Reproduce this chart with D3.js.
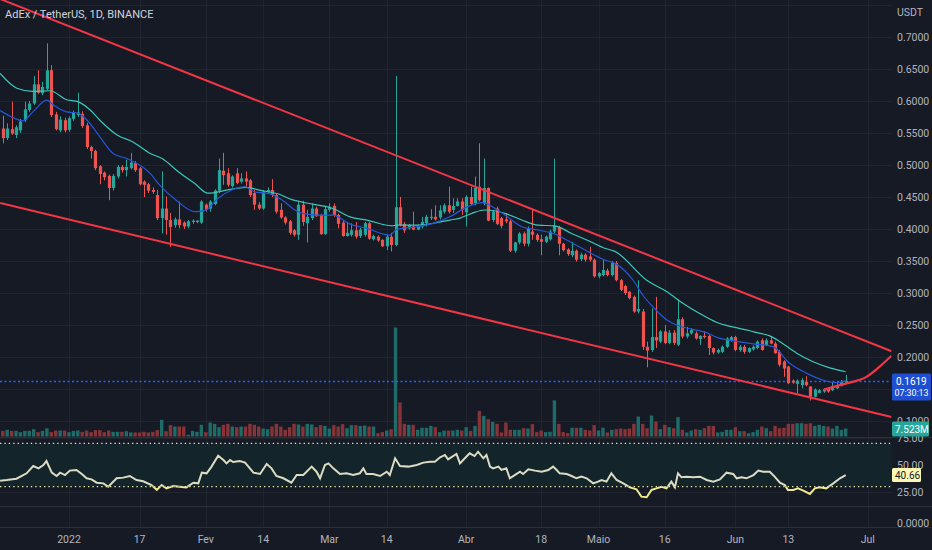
<!DOCTYPE html>
<html lang="pt">
<head>
<meta charset="UTF-8">
<title>AdEx / TetherUS, 1D, BINANCE</title>
<script src="https://d3js.org/d3.v7.min.js"></script>
<style type="text/css">
body { margin: 0; background: #161a25; }
svg { display: block; font-family: Roboto, "Liberation Sans", sans-serif; }
.lbl { font-size: 10.5px; fill: #b2b5be; }
.grid { stroke: #20242f; stroke-width: 1; shape-rendering: crispEdges; }
.sep { stroke: #2a2e39; stroke-width: 1; shape-rendering: crispEdges; }
</style>
</head>
<body>
<div id="chart"></div>
<script>
// ---- data (daily candles, first one on 2021-12-17) ----
var firstDay = "2021-12-17";
var opens = [
0.557,0.542,0.556,0.547,0.554,0.570,0.586,0.596,0.626,0.612,
0.619,0.648,0.579,0.554,0.570,0.555,0.572,0.578,0.580,0.562,
0.528,0.522,0.498,0.488,0.483,0.464,0.482,0.497,0.492,0.495,
0.503,0.495,0.474,0.470,0.461,0.453,0.417,0.432,0.414,0.406,
0.415,0.410,0.404,0.411,0.411,0.410,0.438,0.432,0.439,0.460,
0.491,0.487,0.467,0.487,0.474,0.479,0.476,0.456,0.438,0.432,
0.458,0.461,0.453,0.430,0.418,0.412,0.398,0.391,0.438,0.409,
0.417,0.432,0.422,0.392,0.430,0.436,0.422,0.410,0.389,0.391,
0.398,0.389,0.391,0.409,0.384,0.388,0.383,0.373,0.388,0.375,
0.434,0.408,0.401,0.404,0.399,0.404,0.409,0.417,0.419,0.418,
0.427,0.437,0.430,0.436,0.443,0.426,0.450,0.440,0.466,0.440,
0.464,0.414,0.432,0.417,0.415,0.412,0.366,0.379,0.393,0.377,
0.396,0.391,0.384,0.380,0.384,0.396,0.403,0.377,0.368,0.359,
0.366,0.353,0.360,0.357,0.352,0.326,0.328,0.335,0.328,0.347,
0.320,0.311,0.302,0.294,0.271,0.271,0.216,0.211,0.231,0.224,
0.240,0.222,0.238,0.219,0.259,0.232,0.237,0.237,0.228,0.233,
0.233,0.214,0.207,0.208,0.216,0.226,0.231,0.211,0.216,0.208,
0.212,0.214,0.226,0.219,0.226,0.221,0.208,0.193,0.185,0.163,
0.158,0.156,0.161,0.154,0.138,0.144,0.146,0.151,0.148,0.151,
0.155,0.159];
var highs = [
0.577,0.565,0.599,0.562,0.572,0.599,0.600,0.639,0.648,0.630,
0.690,0.656,0.583,0.576,0.574,0.576,0.585,0.613,0.584,0.566,
0.530,0.524,0.500,0.490,0.485,0.486,0.500,0.500,0.508,0.519,
0.506,0.497,0.476,0.472,0.465,0.461,0.490,0.451,0.425,0.418,
0.443,0.412,0.414,0.415,0.414,0.445,0.440,0.445,0.462,0.510,
0.519,0.495,0.484,0.495,0.487,0.490,0.478,0.461,0.442,0.461,
0.465,0.478,0.456,0.440,0.420,0.414,0.400,0.442,0.444,0.430,
0.440,0.435,0.424,0.435,0.440,0.440,0.424,0.414,0.411,0.409,
0.411,0.402,0.411,0.411,0.391,0.390,0.384,0.391,0.394,0.639,
0.450,0.411,0.408,0.427,0.407,0.419,0.422,0.431,0.437,0.437,
0.440,0.466,0.448,0.448,0.448,0.453,0.466,0.482,0.534,0.510,
0.465,0.430,0.435,0.419,0.425,0.414,0.380,0.395,0.396,0.404,
0.430,0.393,0.391,0.390,0.399,0.510,0.405,0.378,0.370,0.380,
0.368,0.363,0.362,0.372,0.354,0.333,0.352,0.338,0.350,0.350,
0.322,0.313,0.303,0.296,0.320,0.275,0.224,0.276,0.294,0.242,
0.250,0.242,0.242,0.290,0.262,0.247,0.245,0.240,0.234,0.240,
0.235,0.215,0.213,0.218,0.231,0.233,0.233,0.219,0.219,0.215,
0.218,0.226,0.229,0.229,0.232,0.224,0.211,0.195,0.186,0.165,
0.165,0.167,0.170,0.154,0.151,0.150,0.151,0.153,0.161,0.161,
0.164,0.172];
var lows = [
0.534,0.539,0.547,0.542,0.550,0.567,0.583,0.594,0.611,0.609,
0.617,0.575,0.554,0.551,0.551,0.552,0.569,0.575,0.558,0.525,
0.510,0.492,0.470,0.476,0.445,0.460,0.479,0.488,0.482,0.493,
0.489,0.468,0.450,0.456,0.455,0.414,0.393,0.391,0.372,0.402,
0.401,0.400,0.401,0.408,0.409,0.408,0.427,0.427,0.437,0.456,
0.469,0.466,0.465,0.470,0.471,0.466,0.450,0.430,0.430,0.430,
0.455,0.450,0.424,0.416,0.407,0.391,0.388,0.383,0.405,0.379,
0.414,0.419,0.391,0.391,0.427,0.419,0.401,0.388,0.388,0.388,
0.385,0.386,0.388,0.383,0.382,0.380,0.372,0.367,0.365,0.373,
0.404,0.394,0.399,0.398,0.398,0.401,0.404,0.414,0.413,0.415,
0.424,0.424,0.425,0.435,0.422,0.404,0.437,0.437,0.443,0.437,
0.412,0.411,0.406,0.401,0.409,0.364,0.363,0.376,0.373,0.373,
0.383,0.380,0.359,0.378,0.382,0.393,0.359,0.365,0.358,0.356,
0.349,0.350,0.349,0.349,0.324,0.323,0.326,0.326,0.326,0.318,
0.303,0.297,0.290,0.269,0.268,0.211,0.184,0.208,0.214,0.222,
0.220,0.220,0.219,0.217,0.229,0.229,0.235,0.227,0.219,0.229,
0.203,0.204,0.205,0.206,0.214,0.224,0.209,0.208,0.205,0.206,
0.210,0.212,0.210,0.217,0.220,0.205,0.185,0.169,0.158,0.158,
0.143,0.151,0.154,0.132,0.137,0.143,0.144,0.144,0.147,0.150,
0.154,0.158];
var closes = [
0.542,0.557,0.549,0.559,0.568,0.587,0.596,0.626,0.613,0.622,
0.648,0.578,0.556,0.571,0.554,0.573,0.582,0.582,0.561,0.528,
0.522,0.495,0.486,0.481,0.464,0.483,0.497,0.492,0.497,0.504,
0.492,0.470,0.469,0.460,0.458,0.417,0.432,0.414,0.403,0.415,
0.406,0.404,0.412,0.413,0.413,0.443,0.430,0.443,0.460,0.492,
0.484,0.469,0.482,0.472,0.479,0.474,0.453,0.438,0.432,0.458,
0.461,0.453,0.427,0.418,0.410,0.394,0.391,0.438,0.411,0.419,
0.432,0.420,0.392,0.431,0.435,0.422,0.408,0.389,0.394,0.398,
0.388,0.399,0.409,0.385,0.389,0.382,0.373,0.388,0.375,0.434,
0.406,0.398,0.406,0.399,0.405,0.411,0.419,0.419,0.415,0.429,
0.437,0.427,0.436,0.443,0.430,0.450,0.439,0.464,0.445,0.464,
0.413,0.427,0.408,0.405,0.412,0.366,0.379,0.393,0.377,0.401,
0.391,0.383,0.380,0.388,0.396,0.405,0.377,0.367,0.361,0.366,
0.352,0.360,0.352,0.352,0.326,0.331,0.336,0.328,0.347,0.320,
0.305,0.300,0.292,0.271,0.275,0.216,0.210,0.231,0.226,0.240,
0.222,0.238,0.222,0.259,0.232,0.237,0.242,0.229,0.233,0.231,
0.214,0.207,0.211,0.216,0.229,0.231,0.211,0.216,0.208,0.214,
0.216,0.224,0.211,0.226,0.221,0.206,0.188,0.182,0.159,0.160,
0.163,0.164,0.156,0.138,0.149,0.148,0.149,0.146,0.154,0.156,
0.161,0.1619];
// volume in millions
var volumes = [
5.3,6.3,5.3,5.3,4.1,5.3,5.3,6.9,4.1,5.3,
7.8,4.1,5.6,5.6,5.6,4.1,5.3,5.6,4.4,5.6,
4.1,6.0,6.0,4.1,5.6,4.4,4.4,4.4,5.0,3.8,
3.8,3.8,4.4,3.8,4.4,6.0,15.7,5.0,10.7,9.4,
9.4,9.4,1.6,5.3,4.4,11.0,4.1,13.2,11.9,8.8,
11.0,11.9,9.4,8.8,9.4,9.4,11.9,11.0,9.4,7.5,
6.9,9.4,11.9,9.4,6.3,8.8,11.9,11.3,9.4,11.9,
11.3,8.8,10.7,10.0,7.5,10.7,9.4,11.6,7.8,10.7,
10.7,10.0,10.3,9.4,9.4,3.1,4.1,5.6,6.9,102.5,
32,11.9,11.0,11.0,6.3,8.2,8.2,10.0,8.8,4.1,
5.6,5.6,5.6,6.3,5.6,8.8,5.3,10.0,24.1,19.4,
16.3,13.8,11.9,3.8,13.2,6.3,6.3,6.3,7.8,7.5,
11.6,4.1,5.6,4.1,4.4,34,11.9,4.1,3.1,8.2,
8.2,8.2,6.3,5.6,10.7,5.6,8.2,3.8,6.3,6.9,
7.5,6.9,7.5,11.9,18.8,11.9,7.8,19.7,14.1,6.9,
11.0,8.8,7.8,18.2,6.3,3.8,5.6,6.9,6.3,7.8,
10.0,10.0,3.8,4.4,6.3,6.3,8.8,5.0,5.0,3.1,
4.1,6.3,9.4,7.8,5.0,10.0,7.8,8.2,11.9,11.9,
12.5,12.5,11.9,12.5,10.0,11.0,10.0,9.4,7.5,10.0,
6.3,7.523];

// moving averages (day offset from 2022-01-01, price)
var slowMaDays = [-15.6,-11.8,-8.2,-4.3,-0.5,2.0,4.8,7.0,10.9,14.5,18.4,21.1,24.7,28.5,31.5,36.0,39.9,43.7,47.3,50.5,53.5,59.8,63.7,67.5,73.2,74.3,78.8,82.5,86.3,88.6,91.3,94.2,98.8,102.6,106.3,110.1,113.9,117.6,121.4,123.7,130.9,135.5,139.1,142.9,146.8,150.4,154.3,155.9,158.8,161.1,164.9,168.5,172.4,176.0];
var slowMaVals = [0.643,0.620,0.615,0.616,0.602,0.599,0.586,0.570,0.547,0.536,0.518,0.510,0.490,0.471,0.456,0.461,0.465,0.460,0.455,0.446,0.441,0.432,0.419,0.414,0.405,0.406,0.406,0.409,0.414,0.417,0.4245,0.4297,0.4245,0.414,0.406,0.405,0.393,0.382,0.370,0.365,0.320,0.302,0.284,0.268,0.254,0.247,0.241,0.238,0.233,0.224,0.206,0.193,0.183,0.177];
var fastMaDays = [-15.6,-12.7,-10.4,-8.2,-5.0,-3.6,-0.5,2.0,4.1,7.0,10.0,13.1,15.4,18.4,20.2,24.7,28.5,30.8,33.8,36.9,39.9,42.1,45.1,48.3,51.2,53.5,56.2,59.8,63.7,67.5,72.7,74.3,78.8,82.5,86.3,90.4,93.8,96.5,98.8,102.6,106.3,110.1,113.9,117.6,121.4,123.7,127.8,130.0,132.3,135.5,137.7,141.4,144.5,146.8,150.4,154.3,159.5,163.3,167.2,170.8,174.0,176.0];
var fastMaVals = [0.585,0.574,0.569,0.583,0.6015,0.594,0.583,0.581,0.570,0.544,0.518,0.510,0.5025,0.487,0.4714,0.4427,0.427,0.4287,0.448,0.461,0.466,0.458,0.4557,0.4453,0.4297,0.4235,0.4218,0.4218,0.4077,0.4009,0.3905,0.3994,0.4035,0.4087,0.4192,0.4349,0.4411,0.4323,0.4219,0.4036,0.3984,0.3922,0.3786,0.3646,0.3515,0.3463,0.3203,0.2969,0.2786,0.2578,0.25,0.2432,0.238,0.2307,0.2255,0.2213,0.2161,0.1901,0.1744,0.164,0.1599,0.163];

// RSI
var rsiDays = [-15.6,-14.1,-11.9,-9.6,-8.1,-6.9,-5.8,-5.1,-3.9,-2.8,-2.0,-0.9,0.2,1.7,2.9,4.0,5.1,6.3,7.8,8.9,10.8,12.3,13.8,15.3,16.8,18.7,19.9,21.0,22.1,23.6,25.1,26.6,28.2,29.3,30.1,31.2,32.3,33.8,35.0,35.7,36.5,37.2,38.7,39.9,41.8,43.3,44.8,45.9,47.0,48.6,50.4,51.6,53.1,55.0,56.1,56.9,58.0,58.8,59.9,61.4,62.9,64.4,65.9,66.7,67.4,68.9,70.5,72.0,72.7,73.9,75.0,76.9,78.8,80.3,81.8,82.9,84.1,85.2,85.9,87.8,88.6,89.7,90.8,91.9,92.7,93.9,94.6,95.4,96.1,97.3,98.0,99.1,99.9,101.0,102.2,102.9,104.1,105.6,107.1,108.6,109.7,110.5,111.2,112.8,113.9,115.0,116.1,117.3,118.8,119.9,120.7,121.8,122.9,124.1,125.6,127.1,128.6,129.7,130.9,132.0,133.1,134.3,135.4,136.5,137.3,138.0,138.8,139.9,141.5,143.0,144.5,146.0,147.5,149.0,150.5,151.3,152.4,153.5,155.1,156.2,157.3,158.8,159.9,161.1,162.2,162.9,164.1,165.2,166.4,167.9,169.0,170.1,171.6,173.2,174.7,176.0];
var rsiVals = [35.5,36.1,37.3,42.3,49.1,46.9,50.0,53.7,42.9,39.8,42.9,40.7,44.8,45.4,41.7,37.7,36.7,33.6,33.0,29.9,37.7,38.3,39.8,36.1,34.9,31.5,26.9,31.5,28.4,30.6,29.9,29.3,33.6,33.0,42.9,42.3,48.5,58.6,54.6,51.5,54.6,52.8,53.7,52.2,42.9,41.7,50.9,46.9,39.8,37.7,33.6,40.7,40.7,48.5,43.8,37.7,50.0,51.5,46.9,41.7,42.3,40.7,42.3,46.9,41.7,41.7,39.8,43.8,40.7,56.2,49.1,48.5,50.0,52.2,53.1,53.1,57.1,59.3,55.2,60.2,51.5,56.2,60.8,58.3,62.3,56.2,59.3,48.5,46.9,48.5,45.4,46.9,37.7,40.7,43.8,41.7,46.0,44.8,43.8,45.4,48.5,45.4,42.3,41.7,39.8,37.7,39.2,37.7,33.0,34.6,36.1,34.6,42.3,36.1,33.0,29.3,27.5,20.7,20.1,26.9,28.4,29.9,28.4,34.6,29.3,42.3,38.6,39.2,38.6,39.2,36.1,34.6,36.7,42.9,41.7,37.7,38.6,37.7,40.7,44.8,43.8,43.8,39.2,33.6,31.5,26.9,26.9,28.4,26.3,23.2,28.4,29.3,28.4,33.0,37.7,40.7];
var rsiBands = [70, 30];

// drawings: trend channel and curve (day offset, price)
var upperLine = [[-15.6, 0.7594], [186.4, 0.209]];
var lowerLine = [[-15.6, 0.4406], [186.4, 0.1063]];
var arcLine = [[171, 0.149], [174.7, 0.156], [178, 0.162], [180.7, 0.169], [183.7, 0.185], [186.4, 0.202]];

// axes
var priceTicks = [0.75,0.7,0.65,0.6,0.55,0.5,0.45,0.4,0.35,0.3,0.25,0.2,0.15,0.1];
var rsiTicks = [75, 50, 25];
var timeTicks = ["2022-01-01","2022-01-17","2022-02-01","2022-02-14","2022-03-01","2022-03-14","2022-04-01","2022-04-18","2022-05-01","2022-05-16","2022-06-01","2022-06-13","2022-07-01"];
var timeLabels = ["2022","17","Fev","14","Mar","14","Abr","18","Maio","16","Jun","13","Jul"];
var lastPrice = 0.1619;
var lastVolume = "7.523M";
var lastRsi = "40.66";
var countdown = "07:30:13";
var title = "AdEx / TetherUS, 1D, BINANCE";

// ---- layout ----
var width = 932, height = 550;
var plotRight = 891.5;
var pane = { priceBottom: 437, rsiBottom: 506, lastBottom: 527 };
var upCol = "#26a69a", downCol = "#ef5350";

var svg = d3.select("#chart").append("svg")
    .attr("width", width)
    .attr("height", height);
svg.append("rect").attr("width", width).attr("height", height).attr("fill", "#161a25");

var jan1 = Date.UTC(2022, 0, 1);
function dayDate(n) { return new Date(jan1 + n * 864e5); }
var start = new Date(firstDay + "T00:00:00Z");
var candles = closes.map(function(c, i) {
    return { date: d3.utcDay.offset(start, i), o: opens[i], h: highs[i], l: lows[i], c: c, v: volumes[i] };
});

var x = d3.scaleUtc().domain([dayDate(-15.63), dayDate(186.38)]).range([0, plotRight]);
var y = d3.scaleLinear().domain([0.1, 0.7]).range([421, 37]);
var yVol = d3.scaleLinear().domain([0, 100]).range([436.5, 330.2]);
var yRsi = d3.scaleLinear().domain([0, 100]).range([519, 411]);

var defs = svg.append("defs");
defs.append("clipPath").attr("id", "clipPrice").append("rect")
    .attr("x", 0).attr("y", 0).attr("width", plotRight).attr("height", pane.priceBottom);
defs.append("clipPath").attr("id", "clipRsiHi").append("rect")
    .attr("x", 0).attr("y", pane.priceBottom).attr("width", plotRight).attr("height", yRsi(30) - pane.priceBottom);
defs.append("clipPath").attr("id", "clipRsiLo").append("rect")
    .attr("x", 0).attr("y", yRsi(30)).attr("width", plotRight).attr("height", pane.rsiBottom - yRsi(30));

// grid
var grid = svg.append("g");
grid.selectAll("line.v").data(timeTicks).enter().append("line")
    .attr("class", "grid")
    .attr("x1", function(d) { return Math.round(x(new Date(d + "T00:00:00Z"))) + 0.5; })
    .attr("x2", function(d) { return Math.round(x(new Date(d + "T00:00:00Z"))) + 0.5; })
    .attr("y1", 0).attr("y2", pane.lastBottom);
grid.selectAll("line.h").data(priceTicks).enter().append("line")
    .attr("class", "grid")
    .attr("x1", 0).attr("x2", plotRight)
    .attr("y1", function(d) { return Math.round(y(d)) + 0.5; })
    .attr("y2", function(d) { return Math.round(y(d)) + 0.5; });

// rsi band background
svg.append("rect")
    .attr("x", 0).attr("y", yRsi(rsiBands[0]))
    .attr("width", plotRight).attr("height", yRsi(rsiBands[1]) - yRsi(rsiBands[0]))
    .attr("fill", "#13252a");
grid.selectAll("line.r").data(rsiTicks).enter().append("line")
    .attr("class", "grid")
    .attr("x1", 0).attr("x2", plotRight)
    .attr("y1", function(d) { return Math.round(yRsi(d)) + 0.5; })
    .attr("y2", function(d) { return Math.round(yRsi(d)) + 0.5; });

// pane separators
svg.selectAll("line.sep").data([pane.priceBottom, pane.rsiBottom, pane.lastBottom]).enter().append("line")
    .attr("class", "sep")
    .attr("x1", 0).attr("x2", width)
    .attr("y1", function(d) { return d + 0.5; }).attr("y2", function(d) { return d + 0.5; });

var pricePane = svg.append("g").attr("clip-path", "url(#clipPrice)");

// volume
pricePane.selectAll("rect.vol").data(candles).enter().append("rect")
    .attr("x", function(d) { return x(d.date) - 1.7; })
    .attr("width", 3.4)
    .attr("y", function(d) { return yVol(d.v); })
    .attr("height", function(d) { return yVol(0) - yVol(d.v); })
    .attr("fill", function(d) { return d.c >= d.o ? "#1f6b68" : "#863438"; });

// current price line
pricePane.append("line")
    .attr("x1", 0).attr("x2", plotRight)
    .attr("y1", Math.round(y(lastPrice)) + 0.5).attr("y2", Math.round(y(lastPrice)) + 0.5)
    .attr("stroke", "#2962ff").attr("stroke-width", 1.3).attr("stroke-dasharray", "2,2.5");

// candles
var cg = pricePane.selectAll("g.candle").data(candles).enter().append("g");
cg.append("line")
    .attr("x1", function(d) { return Math.round(x(d.date)) + 0.5; })
    .attr("x2", function(d) { return Math.round(x(d.date)) + 0.5; })
    .attr("y1", function(d) { return y(d.h); })
    .attr("y2", function(d) { return y(d.l); })
    .attr("stroke", function(d) { return d.c >= d.o ? upCol : downCol; })
    .attr("stroke-width", 1);
cg.append("rect")
    .attr("x", function(d) { return Math.round(x(d.date)) + 0.5 - 1.6; })
    .attr("width", 3.2)
    .attr("y", function(d) { return y(Math.max(d.o, d.c)); })
    .attr("height", function(d) { return Math.max(1, Math.abs(y(d.o) - y(d.c))); })
    .attr("fill", function(d) { return d.c >= d.o ? upCol : downCol; });

// moving averages
var maLine = d3.line()
    .x(function(d) { return x(dayDate(d[0])); })
    .y(function(d) { return y(d[1]); })
    .curve(d3.curveMonotoneX);
pricePane.append("path")
    .attr("d", maLine(d3.zip(slowMaDays, slowMaVals)))
    .attr("fill", "none").attr("stroke", "#3cc8b8").attr("stroke-width", 1.2);
pricePane.append("path")
    .attr("d", maLine(d3.zip(fastMaDays, fastMaVals)))
    .attr("fill", "none").attr("stroke", "#2457d8").attr("stroke-width", 1.2);

// channel drawings
var drawLine = d3.line()
    .x(function(d) { return x(dayDate(d[0])); })
    .y(function(d) { return y(d[1]); });
[upperLine, lowerLine].forEach(function(l) {
    pricePane.append("path").attr("d", drawLine(l))
        .attr("fill", "none").attr("stroke", "#f23645").attr("stroke-width", 2);
});
pricePane.append("path").attr("d", drawLine.curve(d3.curveNatural)(arcLine))
    .attr("fill", "none").attr("stroke", "#f23645").attr("stroke-width", 2.2);

// rsi
var rsiLine = d3.line()
    .x(function(d) { return x(dayDate(d[0])); })
    .y(function(d) { return yRsi(d[1]); });
var rsiPts = d3.zip(rsiDays, rsiVals);
svg.selectAll("line.band").data(rsiBands).enter().append("line")
    .attr("x1", 0).attr("x2", plotRight)
    .attr("y1", function(d) { return yRsi(d); }).attr("y2", function(d) { return yRsi(d); })
    .attr("stroke", "#e9e3a6").attr("stroke-width", 1.4).attr("stroke-dasharray", "1.4,3");
svg.append("path").attr("d", rsiLine(rsiPts)).attr("clip-path", "url(#clipRsiHi)")
    .attr("fill", "none").attr("stroke", "#dcdbc4").attr("stroke-width", 2);
svg.append("path").attr("d", rsiLine(rsiPts)).attr("clip-path", "url(#clipRsiLo)")
    .attr("fill", "none").attr("stroke", "#f1e98e").attr("stroke-width", 2);

// title
svg.append("text").attr("x", 5).attr("y", 18)
    .style("font-size", "11px").attr("fill", "#d1d4dc").text(title);

// right scale (labels hidden behind the last-price badge are skipped)
svg.append("text").attr("class", "lbl").attr("x", 897).attr("y", 16).text("USDT");
svg.selectAll("text.pt").data(priceTicks.filter(function(d) {
        return d < 0.72 && Math.abs(y(d) - y(lastPrice)) > 16;
    })).enter().append("text")
    .attr("class", "lbl").attr("x", 897)
    .attr("y", function(d) { return y(d) + 4; })
    .text(function(d) { return d.toFixed(4); });
svg.selectAll("text.rt").data(rsiTicks).enter().append("text")
    .attr("class", "lbl").attr("x", 897)
    .attr("y", function(d) { return yRsi(d) + 4; })
    .text(function(d) { return d.toFixed(2); });
svg.append("text").attr("class", "lbl").attr("x", 897).attr("y", 527).text((0).toFixed(4));

// time axis
svg.selectAll("text.tt").data(timeTicks).enter().append("text")
    .attr("class", "lbl")
    .attr("x", function(d) { return x(new Date(d + "T00:00:00Z")); })
    .attr("y", 543)
    .attr("text-anchor", "middle")
    .text(function(d, i) { return timeLabels[i]; });

// last value badges
var py = y(lastPrice);
svg.append("rect").attr("x", 892).attr("y", py - 8).attr("width", 39).attr("height", 27)
    .attr("rx", 1.5).attr("fill", "#1f4fd0");
svg.append("text").attr("x", 896).attr("y", py + 3.5).style("font-size", "10px")
    .attr("fill", "#ffffff").text(lastPrice.toFixed(4));
svg.append("text").attr("x", 894.5).attr("y", py + 15).style("font-size", "9.5px")
    .attr("textLength", 34).attr("lengthAdjust", "spacingAndGlyphs")
    .attr("fill", "#ffffff").text(countdown);

var vy = yVol(volumes[volumes.length - 1]);
svg.append("rect").attr("x", 892).attr("y", vy - 7).attr("width", 37).attr("height", 15)
    .attr("rx", 1.5).attr("fill", upCol);
svg.append("text").attr("x", 895).attr("y", vy + 4).style("font-size", "10px")
    .attr("fill", "#ffffff").text(lastVolume);

var ry = yRsi(rsiVals[rsiVals.length - 1]);
svg.append("rect").attr("x", 892).attr("y", ry - 7).attr("width", 29).attr("height", 14)
    .attr("rx", 1.5).attr("fill", "#fcf7b4");
svg.append("text").attr("x", 895).attr("y", ry + 4).style("font-size", "10px")
    .attr("fill", "#131722").text(lastRsi);
</script>
</body>
</html>
